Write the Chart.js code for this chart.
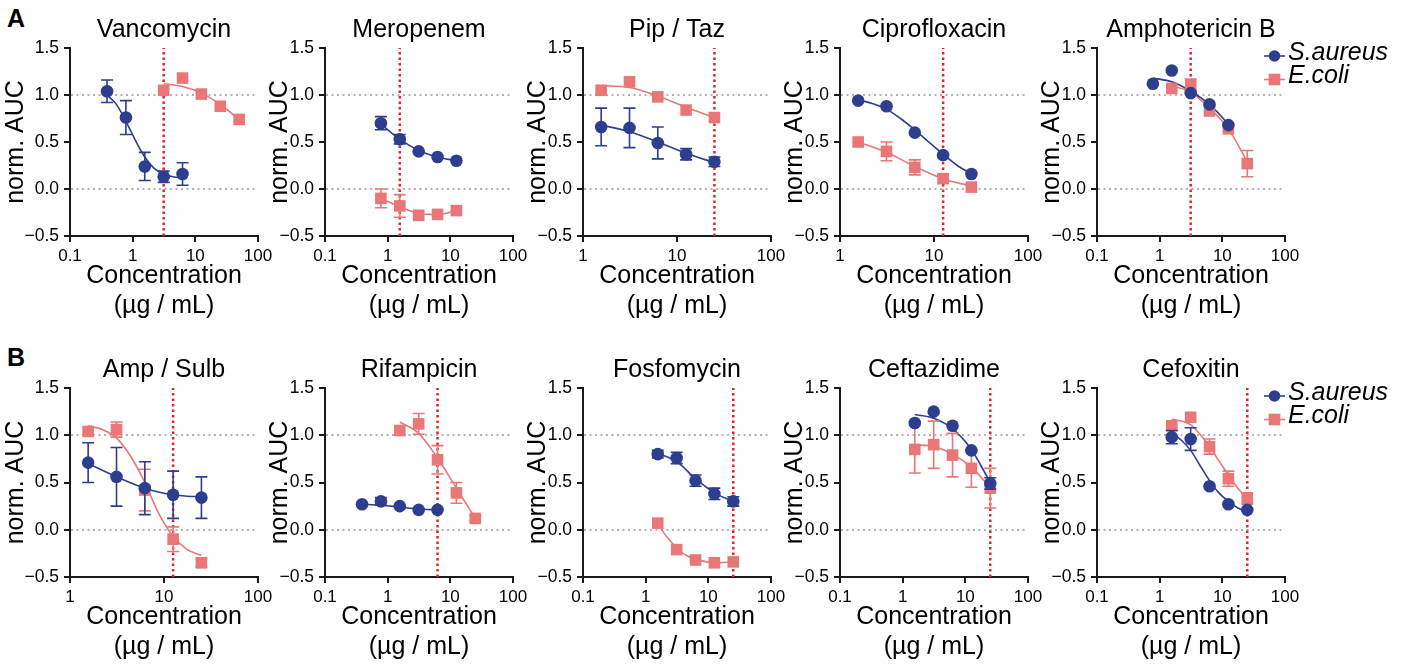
<!DOCTYPE html>
<html>
<head>
<meta charset="utf-8">
<script src="https://cdn.jsdelivr.net/npm/chart.js@4.4.1/dist/chart.umd.min.js"></script>
<style>
  body { margin: 0; background: #fff; }
  #page { position: relative; width: 1406px; height: 665px; overflow: hidden; font-family: 'Liberation Sans', Arial, sans-serif; }
  #page canvas { position: absolute; }
  .tag { position: absolute; font-weight: bold; font-size: 25px; line-height: 25px; color: #000; }
</style>
</head>
<body>
<div id="page">
  <div class="tag" style="left:7px; top:6px">A</div>
  <div class="tag" style="left:7px; top:345px">B</div>
</div>
<script>
// panel titles, row A then row B
const drugs = ['Vancomycin', 'Meropenem', 'Pip / Taz', 'Ciprofloxacin', 'Amphotericin B',
               'Amp / Sulb', 'Rifampicin', 'Fosfomycin', 'Ceftazidime', 'Cefoxitin'];
const seriesNames = ['S.aureus', 'E.coli'];

// axes
const xMin = [0.1, 0.1, 1, 1, 0.1, 1, 0.1, 0.1, 0.1, 0.1];
const xTickValues = [0.1, 1, 10, 100];
const yTickValues = [-0.5, 0, 0.5, 1, 1.5];
const refLevels = [0, 1];

// dotted red concentration marker per panel
const micConc = [3.125, 1.5625, 25, 12.5, 3.125, 12.5, 6.25, 25, 25, 25];

// S.aureus: concentration, mean, SD
const saX = [
  [0.39, 0.78, 1.56, 3.125, 6.25],
  [0.78, 1.56, 3.125, 6.25, 12.5],
  [1.56, 3.125, 6.25, 12.5, 25],
  [1.56, 3.125, 6.25, 12.5, 25],
  [0.78, 1.56, 3.125, 6.25, 12.5],
  [1.56, 3.125, 6.25, 12.5, 25],
  [0.39, 0.78, 1.56, 3.125, 6.25],
  [1.56, 3.125, 6.25, 12.5, 25],
  [1.56, 3.125, 6.25, 12.5, 25],
  [1.56, 3.125, 6.25, 12.5, 25]
];
const saY = [
  [1.04, 0.76, 0.24, 0.13, 0.16],
  [0.70, 0.53, 0.40, 0.34, 0.30],
  [0.66, 0.65, 0.49, 0.37, 0.29],
  [0.94, 0.88, 0.60, 0.36, 0.16],
  [1.12, 1.26, 1.02, 0.90, 0.68],
  [0.71, 0.56, 0.44, 0.37, 0.34],
  [0.27, 0.30, 0.25, 0.21, 0.21],
  [0.80, 0.76, 0.52, 0.38, 0.30],
  [1.13, 1.25, 1.10, 0.84, 0.49],
  [0.98, 0.96, 0.46, 0.27, 0.21]
];
const saSd = [
  [0.12, 0.18, 0.15, 0.06, 0.12],
  [0.07, 0.05, 0, 0, 0],
  [0.20, 0.21, 0.17, 0.06, 0.05],
  [0, 0, 0, 0, 0],
  [0, 0, 0, 0, 0],
  [0.21, 0.31, 0.28, 0.25, 0.22],
  [0, 0.04, 0, 0, 0],
  [0.04, 0.06, 0.06, 0.06, 0.05],
  [0, 0, 0, 0, 0.06],
  [0.07, 0.12, 0, 0, 0]
];
// S.aureus fitted curve
const saFitX = [
  [0.39, 0.55, 0.78, 1.1, 1.56, 2.2, 3.125, 4.4, 6.25],
  [0.78, 1.56, 3.125, 6.25, 12.5],
  [1.56, 3.125, 6.25, 12.5, 25],
  [1.56, 2.2, 3.125, 4.4, 6.25, 8.8, 12.5, 17.7, 25],
  [0.78, 1.56, 3.125, 6.25, 12.5],
  [1.56, 3.125, 6.25, 12.5, 17.7, 25],
  [0.39, 0.78, 1.56, 3.125, 6.25],
  [1.56, 3.125, 6.25, 12.5, 25],
  [1.56, 3.125, 6.25, 12.5, 17.7, 25],
  [1.56, 2.2, 3.125, 4.4, 6.25, 8.8, 12.5, 17.7, 25]
];
const saFitY = [
  [1.00, 0.90, 0.72, 0.52, 0.34, 0.22, 0.16, 0.13, 0.12],
  [0.69, 0.53, 0.41, 0.34, 0.30],
  [0.68, 0.61, 0.50, 0.38, 0.28],
  [0.95, 0.91, 0.85, 0.75, 0.63, 0.50, 0.37, 0.25, 0.16],
  [1.18, 1.14, 1.04, 0.90, 0.69],
  [0.70, 0.56, 0.44, 0.37, 0.355, 0.35],
  [0.27, 0.26, 0.24, 0.22, 0.21],
  [0.81, 0.72, 0.54, 0.39, 0.30],
  [1.22, 1.18, 1.07, 0.85, 0.68, 0.50],
  [1.03, 0.95, 0.84, 0.68, 0.52, 0.39, 0.30, 0.23, 0.19]
];

// E.coli: concentration, mean, SD
const ecX = [
  [3.125, 6.25, 12.5, 25, 50],
  [0.78, 1.56, 3.125, 6.25, 12.5],
  [1.56, 3.125, 6.25, 12.5, 25],
  [1.56, 3.125, 6.25, 12.5, 25],
  [1.56, 3.125, 6.25, 12.5, 25],
  [1.56, 3.125, 6.25, 12.5, 25],
  [1.56, 3.125, 6.25, 12.5, 25],
  [1.56, 3.125, 6.25, 12.5, 25],
  [1.56, 3.125, 6.25, 12.5, 25],
  [1.56, 3.125, 6.25, 12.5, 25]
];
const ecY = [
  [1.05, 1.18, 1.01, 0.88, 0.74],
  [-0.10, -0.18, -0.28, -0.27, -0.23],
  [1.05, 1.14, 0.98, 0.84, 0.76],
  [0.50, 0.40, 0.23, 0.11, 0.02],
  [1.07, 1.11, 0.83, 0.64, 0.27],
  [1.04, 1.06, 0.42, -0.10, -0.35],
  [1.05, 1.12, 0.74, 0.39, 0.12],
  [0.07, -0.21, -0.32, -0.35, -0.34],
  [0.85, 0.90, 0.79, 0.65, 0.44],
  [1.10, 1.19, 0.88, 0.54, 0.33]
];
const ecSd = [
  [0, 0, 0, 0, 0],
  [0.10, 0.12, 0, 0, 0],
  [0, 0, 0, 0, 0],
  [0, 0.10, 0.08, 0.04, 0],
  [0, 0.06, 0, 0, 0.14],
  [0, 0.08, 0.22, 0.13, 0.04],
  [0.05, 0.11, 0.15, 0.11, 0.03],
  [0, 0, 0, 0, 0],
  [0.25, 0.25, 0.23, 0.20, 0.21],
  [0, 0, 0.08, 0.08, 0.06]
];
const ecFitX = [
  [3.125, 6.25, 12.5, 25, 50],
  [0.78, 1.56, 3.125, 6.25, 12.5],
  [1.56, 3.125, 6.25, 12.5, 25],
  [1.56, 3.125, 6.25, 12.5, 25],
  [1.56, 3.125, 6.25, 12.5, 25],
  [1.56, 2.2, 3.125, 4.4, 6.25, 8.8, 12.5, 17.7, 25],
  [1.56, 3.125, 6.25, 12.5, 17.7, 25],
  [1.56, 2.2, 3.125, 4.4, 6.25, 12.5, 25],
  [1.56, 3.125, 6.25, 12.5, 25],
  [1.56, 2.2, 3.125, 4.4, 6.25, 8.8, 12.5, 17.7, 25]
];
const ecFitY = [
  [1.12, 1.09, 1.02, 0.90, 0.74],
  [-0.10, -0.19, -0.26, -0.27, -0.23],
  [1.10, 1.08, 0.99, 0.87, 0.76],
  [0.50, 0.39, 0.24, 0.11, 0.03],
  [1.10, 1.03, 0.86, 0.64, 0.29],
  [1.10, 1.06, 0.97, 0.78, 0.50, 0.17, -0.07, -0.21, -0.27],
  [1.14, 1.02, 0.76, 0.44, 0.28, 0.12],
  [0.06, -0.08, -0.19, -0.27, -0.31, -0.35, -0.34],
  [0.90, 0.88, 0.80, 0.66, 0.45],
  [1.17, 1.15, 1.11, 1.01, 0.88, 0.73, 0.58, 0.44, 0.33]
];

// plot-area placement on the page
const plotLeft = [70, 325, 583, 840, 1097];
const plotRight = [258, 513, 771, 1028, 1285];
const plotTop = [48, 388];
const plotBottom = [236, 577];

const BLUE = '#2d3e8e';
const PINK = '#e97777';
const RED = '#e2232c';
const AXIS = '#1a1a1a';

Chart.defaults.font.family = "'Liberation Sans', Arial, Helvetica, sans-serif";
Chart.defaults.color = '#000';

function pts(xs, ys) {
  return xs.map((x, i) => ({ x: x, y: ys[i] }));
}

function fmtY(v) {
  return (v < 0 ? '\u2212' : '') + Math.abs(v).toFixed(1);
}

// SD whiskers drawn right before each marker dataset
const errorBars = {
  id: 'errorBars',
  beforeDatasetDraw(chart, args) {
    const ds = chart.data.datasets[args.index];
    if (!ds.errors) return;
    const { ctx, scales } = chart;
    ctx.save();
    ctx.strokeStyle = ds.borderColor;
    ctx.lineWidth = 1.6;
    ds.data.forEach((pt, i) => {
      const e = ds.errors[i];
      if (!e) return;
      const px = scales.x.getPixelForValue(pt.x);
      const lo = scales.y.getPixelForValue(pt.y - e);
      const hi = scales.y.getPixelForValue(pt.y + e);
      ctx.beginPath();
      ctx.moveTo(px, lo); ctx.lineTo(px, hi);
      ctx.moveTo(px - 6, lo); ctx.lineTo(px + 6, lo);
      ctx.moveTo(px - 6, hi); ctx.lineTo(px + 6, hi);
      ctx.stroke();
    });
    ctx.restore();
  }
};

// legend sitting just right of the last panel in each row
const sideLegend = {
  id: 'sideLegend',
  afterDraw(chart, args, opts) {
    if (!opts.display) return;
    const { ctx, chartArea } = chart;
    chart.data.datasets.filter(d => d.inLegend).forEach((d, i) => {
      const y = chartArea.top + 8 + i * 23.5;
      const x1 = chartArea.right;
      const xm = x1 - 10.5;
      ctx.save();
      ctx.strokeStyle = d.borderColor;
      ctx.fillStyle = d.backgroundColor;
      ctx.lineWidth = 1.6;
      ctx.beginPath();
      ctx.moveTo(x1 - 21, y); ctx.lineTo(x1, y);
      ctx.stroke();
      if (d.pointStyle === 'circle') {
        ctx.beginPath();
        ctx.arc(xm, y, 5.8, 0, Math.PI * 2);
        ctx.fill();
      } else {
        ctx.fillRect(xm - 5.8, y - 5.8, 11.6, 11.6);
      }
      ctx.fillStyle = '#000';
      ctx.font = "italic 25px 'Liberation Sans', Arial, sans-serif";
      ctx.textAlign = 'left';
      ctx.textBaseline = 'middle';
      ctx.fillText(d.label, x1 + 3, y - 3);
      ctx.restore();
    });
  }
};

const page = document.getElementById('page');

drugs.forEach((name, p) => {
  const c = p % 5;
  const r = Math.floor(p / 5);
  const yW = c === 0 ? 70 : 60;
  const left = plotLeft[c] - yW;
  const top = plotTop[r] - 34;
  const right = c === 4 ? 1406 : plotRight[c] + 22;
  const bottom = plotBottom[r] + 85;

  const cv = document.createElement('canvas');
  cv.width = right - left;
  cv.height = bottom - top;
  cv.style.left = left + 'px';
  cv.style.top = top + 'px';
  page.appendChild(cv);

  new Chart(cv, {
    type: 'scatter',
    data: {
      datasets: [
        { label: seriesNames[0], data: pts(saX[p], saY[p]), errors: saSd[p], inLegend: true,
          pointStyle: 'circle', pointRadius: 6.3, pointBorderWidth: 0,
          backgroundColor: BLUE, borderColor: BLUE, order: 0 },
        { label: seriesNames[1], data: pts(ecX[p], ecY[p]), errors: ecSd[p], inLegend: true,
          pointStyle: 'rect', pointRadius: 8.2, pointBorderWidth: 0,
          backgroundColor: PINK, borderColor: PINK, order: 0 },
        { data: pts(saFitX[p], saFitY[p]), showLine: true, pointRadius: 0,
          borderColor: BLUE, borderWidth: 1.6, cubicInterpolationMode: 'monotone', order: 1 },
        { data: pts(ecFitX[p], ecFitY[p]), showLine: true, pointRadius: 0,
          borderColor: PINK, borderWidth: 1.6, cubicInterpolationMode: 'monotone', order: 1 },
        { data: [{ x: micConc[p], y: yTickValues[0] }, { x: micConc[p], y: yTickValues[yTickValues.length - 1] }],
          showLine: true, pointRadius: 0, borderColor: RED, borderWidth: 2.5,
          borderDash: [2.5, 3], order: 2 }
      ]
    },
    options: {
      responsive: false,
      animation: false,
      events: [],
      layout: { padding: { left: 0, top: 0, right: right - plotRight[c], bottom: 0 } },
      plugins: {
        legend: { display: false },
        tooltip: { enabled: false },
        sideLegend: { display: c === 4 },
        title: {
          display: true, text: name, fullSize: false, color: '#000',
          font: { size: 25, weight: 'normal' }, padding: { top: 0.8, bottom: 3.2 }
        }
      },
      scales: {
        x: {
          type: 'logarithmic',
          min: xMin[p],
          max: xTickValues[xTickValues.length - 1],
          afterBuildTicks: s => {
            s.ticks = xTickValues.filter(v => v >= xMin[p] - 1e-9).map(v => ({ value: v }));
          },
          ticks: { font: { size: 17 }, padding: 4, autoSkip: false, maxRotation: 0,
                   callback: v => String(v) },
          grid: { drawOnChartArea: false, lineWidth: 2, tickColor: AXIS, tickWidth: 2, tickLength: 6 },
          border: { color: AXIS, width: 2 },
          title: { display: true, text: ['Concentration', '(\u00b5g / mL)'],
                   font: { size: 25 }, padding: { top: 0, bottom: 0 } },
          afterFit: s => { s.height = 85; }
        },
        y: {
          min: yTickValues[0],
          max: yTickValues[yTickValues.length - 1],
          ticks: { stepSize: 0.5, font: { size: 17.5 }, padding: 5, callback: v => fmtY(v) },
          grid: {
            lineWidth: 2,
            color: g => (g.tick && refLevels.some(v => Math.abs(g.tick.value - v) < 1e-9)) ? '#b3b3b3' : 'rgba(0,0,0,0)',
            tickColor: AXIS, tickWidth: 2, tickLength: 6
          },
          border: { color: AXIS, width: 2, dash: [2, 3.5] },
          title: { display: true, text: 'norm. AUC', font: { size: 25 },
                   padding: { top: c === 0 ? 1 : 0, bottom: 0 } },
          afterFit: s => { s.width = yW; }
        }
      }
    },
    plugins: [errorBars, sideLegend]
  });
});
</script>
</body>
</html>
